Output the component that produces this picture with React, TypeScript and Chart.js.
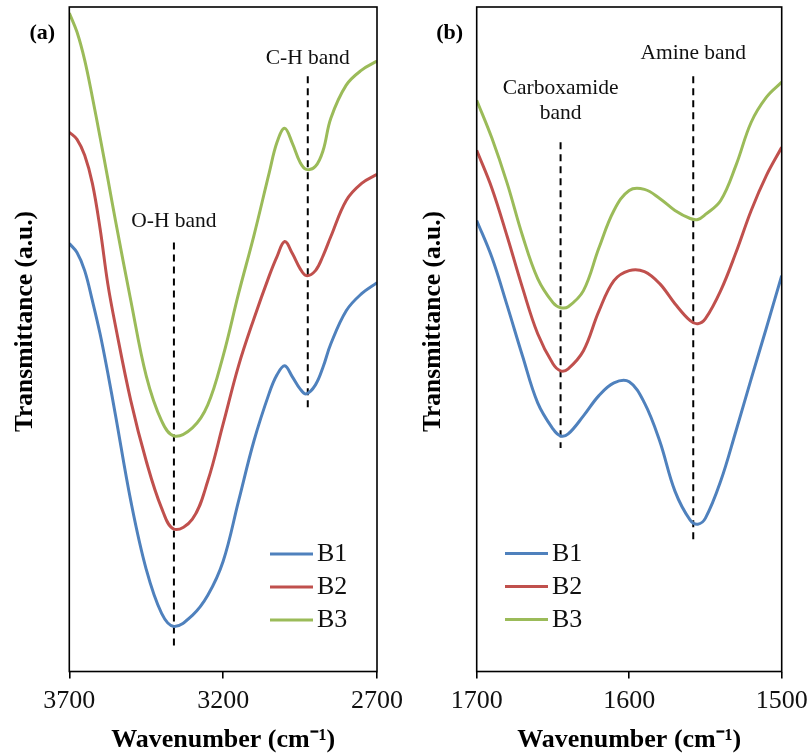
import React, { useEffect, useRef } from "react";
import { Chart, registerables } from "chart.js";

Chart.register(...registerables);

const SERIF = '"Liberation Serif", "Times New Roman", serif';

const SERIES_LABELS = ["B1", "B2", "B3"];
const SERIES_COLORS = ["#4F81BD", "#C0504D", "#9BBB59"];
const Y_TITLE = "Transmittance (a.u.)";
const X_TITLE = "Wavenumber (cm\u207B\u00B9)";

// ---------- Panel (a): 3700 - 2700 cm-1 ----------
const WAVENUMBER_A = [3700, 3675, 3650, 3625, 3600, 3575, 3550, 3500, 3450, 3400, 3360, 3300, 3250, 3200, 3150, 3100, 3050, 3025, 3000, 2975, 2950, 2930, 2900, 2875, 2850, 2800, 2750, 2700];
const B1_A = [42.7, 41.8, 40.0, 37.0, 33.7, 29.8, 25.6, 17.0, 10.2, 5.8, 4.5, 5.6, 7.6, 11.0, 17.0, 23.0, 27.8, 29.6, 30.5, 29.4, 28.2, 27.7, 28.6, 30.4, 32.7, 36.0, 37.7, 38.8];
const B2_A = [53.8, 53.1, 51.5, 48.7, 44.2, 38.7, 34.5, 27.0, 21.0, 16.3, 14.2, 15.2, 19.0, 24.7, 30.5, 35.2, 39.5, 41.4, 42.9, 41.7, 40.2, 39.5, 40.0, 41.5, 43.4, 47.0, 48.7, 49.6];
const B3_A = [65.7, 63.8, 61.0, 57.3, 53.3, 49.2, 45.0, 37.0, 29.5, 25.0, 23.5, 24.3, 26.6, 31.5, 37.7, 43.5, 49.8, 52.8, 54.2, 52.7, 50.8, 50.1, 50.4, 52.0, 55.2, 58.5, 60.0, 60.9];
const BAND_A_X = [3360, 2925];
const BAND_A_TOP = [42.8, 59.4];
const BAND_A_BOTTOM = [2.3, 26.3];
const BAND_A_TEXT = [["O-H band"], ["C-H band"]];
const BAND_A_TEXT_Y = [[44.9], [61.2]];

// ---------- Panel (b): 1700 - 1500 cm-1 ----------
const WAVENUMBER_B = [1700, 1690, 1680, 1670, 1660, 1650, 1645, 1640, 1630, 1620, 1610, 1600, 1590, 1580, 1570, 1560, 1555, 1550, 1540, 1530, 1520, 1510, 1500];
const B1_B = [45.0, 41.3, 36.5, 31.5, 26.8, 24.2, 23.5, 23.7, 25.5, 27.5, 28.8, 28.9, 26.8, 23.0, 18.0, 15.1, 14.7, 15.3, 19.0, 24.0, 29.2, 34.3, 39.5];
const B2_B = [52.0, 48.2, 43.4, 38.3, 33.7, 30.7, 30.0, 30.2, 32.0, 35.9, 39.0, 40.0, 39.9, 38.7, 36.7, 35.0, 34.7, 35.2, 38.0, 41.8, 46.0, 49.5, 52.3];
const B3_B = [57.0, 53.2, 48.7, 43.5, 39.2, 36.8, 36.3, 36.4, 38.0, 42.2, 46.0, 48.0, 48.1, 47.2, 46.0, 45.2, 45.1, 45.6, 47.0, 50.5, 54.8, 57.3, 58.8];
const BAND_B_X = [1645, 1558];
const BAND_B_TOP = [52.8, 59.4];
const BAND_B_BOTTOM = [22.3, 13.2];
const BAND_B_TEXT = [["Carboxamide", "band"], ["Amine band"]];
const BAND_B_TEXT_Y = [[58.2, 55.7], [61.7]];

const Y_MIN = 0;
const Y_MAX = 66.3;

type PanelCfg = {
  tag: string;
  x: number[];
  series: number[][];
  min: number;
  max: number;
  step: number;
  bandX: number[];
  bandTop: number[];
  bandBottom: number[];
  bandText: string[][];
  bandTextY: number[][];
  padLeft: number;
  padRight: number;
  yTitleDx: number;
  legendDx: number;
  legendDy: number;
};

const PANEL_A: PanelCfg = {
  tag: "(a)",
  x: WAVENUMBER_A,
  series: [B1_A, B2_A, B3_A],
  min: 2700,
  max: 3700,
  step: 500,
  bandX: BAND_A_X,
  bandTop: BAND_A_TOP,
  bandBottom: BAND_A_BOTTOM,
  bandText: BAND_A_TEXT,
  bandTextY: BAND_A_TEXT_Y,
  padLeft: 69.3,
  padRight: 28.3,
  yTitleDx: -43.5,
  legendDx: 200.7,
  legendDy: 547,
};

const PANEL_B: PanelCfg = {
  tag: "(b)",
  x: WAVENUMBER_B,
  series: [B1_B, B2_B, B3_B],
  min: 1500,
  max: 1700,
  step: 100,
  bandX: BAND_B_X,
  bandTop: BAND_B_TOP,
  bandBottom: BAND_B_BOTTOM,
  bandText: BAND_B_TEXT,
  bandTextY: BAND_B_TEXT_Y,
  padLeft: 70.7,
  padRight: 29.3,
  yTitleDx: -43.7,
  legendDx: 28.3,
  legendDy: 546.5,
};

function makeDecor(p: PanelCfg) {
  return {
    id: "decor" + p.tag,
    afterDatasetsDraw(chart: any) {
      const { ctx, chartArea: ca, scales } = chart;
      ctx.save();
      // frame
      ctx.strokeStyle = "#000";
      ctx.lineWidth = 1.6;
      ctx.strokeRect(ca.left, ca.top, ca.right - ca.left, ca.bottom - ca.top);

      // band annotations
      ctx.fillStyle = "#111";
      ctx.textAlign = "center";
      ctx.textBaseline = "middle";
      ctx.font = `21.5px ${SERIF}`;
      p.bandText.forEach((lines, i) => {
        const px = scales.x.getPixelForValue(p.bandX[i]);
        lines.forEach((t, j) => {
          ctx.fillText(t, px, scales.y.getPixelForValue(p.bandTextY[i][j]));
        });
      });

      // panel tag
      ctx.fillStyle = "#000";
      ctx.font = `bold 22px ${SERIF}`;
      ctx.fillText(p.tag, ca.left - 27, ca.top + 26.5);

      // y-axis title (placed slightly above the plot centre, as in the original)
      ctx.save();
      ctx.translate(ca.left + p.yTitleDx, ca.top + 314.5);
      ctx.rotate(-Math.PI / 2);
      ctx.font = `bold 25.5px ${SERIF}`;
      ctx.fillText(Y_TITLE, 0, 0);
      ctx.restore();

      // legend
      ctx.textAlign = "left";
      ctx.textBaseline = "middle";
      ctx.font = `26px ${SERIF}`;
      const series = chart.data.datasets.filter((d: any) => SERIES_LABELS.includes(d.label));
      series.forEach((d: any, i: number) => {
        const x0 = ca.left + p.legendDx;
        const y0 = ca.top + p.legendDy + i * 33;
        ctx.strokeStyle = d.borderColor;
        ctx.lineWidth = 3.2;
        ctx.beginPath();
        ctx.moveTo(x0, y0);
        ctx.lineTo(x0 + 43, y0);
        ctx.stroke();
        ctx.fillStyle = "#111";
        ctx.fillText(d.label, x0 + 47, y0 + 0.5);
      });
      ctx.restore();
    },
  };
}

function buildConfig(p: PanelCfg): any {
  const datasets: any[] = p.series.map((vals, i) => ({
    label: SERIES_LABELS[i],
    data: p.x.map((xv, j) => ({ x: xv, y: vals[j] })),
    borderColor: SERIES_COLORS[i],
    backgroundColor: SERIES_COLORS[i],
    borderWidth: 3,
    pointRadius: 0,
    tension: 0.38,
    fill: false,
  }));
  p.bandX.forEach((bx, i) => {
    datasets.push({
      label: "band" + i,
      data: [
        { x: bx, y: p.bandTop[i] },
        { x: bx, y: p.bandBottom[i] },
      ],
      borderColor: "#000",
      backgroundColor: "#000",
      borderWidth: 2,
      borderDash: [7, 5],
      pointRadius: 0,
      tension: 0,
      fill: false,
    });
  });

  return {
    type: "line",
    data: { datasets },
    options: {
      responsive: false,
      animation: false,
      devicePixelRatio: 1,
      events: [],
      layout: { padding: { left: p.padLeft, right: p.padRight, top: 7, bottom: 0 } },
      plugins: { legend: { display: false }, tooltip: { enabled: false } },
      scales: {
        x: {
          type: "linear",
          min: p.min,
          max: p.max,
          reverse: true,
          ticks: {
            stepSize: p.step,
            padding: 3,
            color: "#111",
            autoSkip: false,
            maxRotation: 0,
            font: { family: SERIF, size: 26, lineHeight: 1.538 },
            callback: (v: any) => String(v),
          },
          grid: {
            display: true,
            drawOnChartArea: false,
            drawTicks: true,
            tickLength: 7,
            color: "#000",
            lineWidth: 1.6,
          },
          border: { display: false },
          title: {
            display: true,
            text: X_TITLE,
            color: "#000",
            font: { family: SERIF, size: 26, weight: "bold", lineHeight: 1.0 },
            padding: { top: 2.5, bottom: 0 },
          },
        },
        y: {
          type: "linear",
          display: false,
          min: Y_MIN,
          max: Y_MAX,
        },
      },
    },
    plugins: [makeDecor(p)],
  };
}

function Panel({ cfg, left, width }: { cfg: PanelCfg; left: number; width: number }) {
  const ref = useRef<HTMLCanvasElement | null>(null);
  useEffect(() => {
    if (!ref.current) return;
    const chart = new Chart(ref.current, buildConfig(cfg));
    return () => chart.destroy();
  }, [cfg]);
  return (
    <canvas
      ref={ref}
      width={width}
      height={753}
      style={{ position: "absolute", left, top: 0, width, height: 753 }}
    />
  );
}

export default function App() {
  return (
    <div
      style={{
        position: "fixed",
        left: 0,
        top: 0,
        width: 811,
        height: 753,
        background: "#fff",
        overflow: "hidden",
      }}
    >
      <Panel cfg={PANEL_A} left={0} width={406} />
      <Panel cfg={PANEL_B} left={406} width={405} />
    </div>
  );
}
